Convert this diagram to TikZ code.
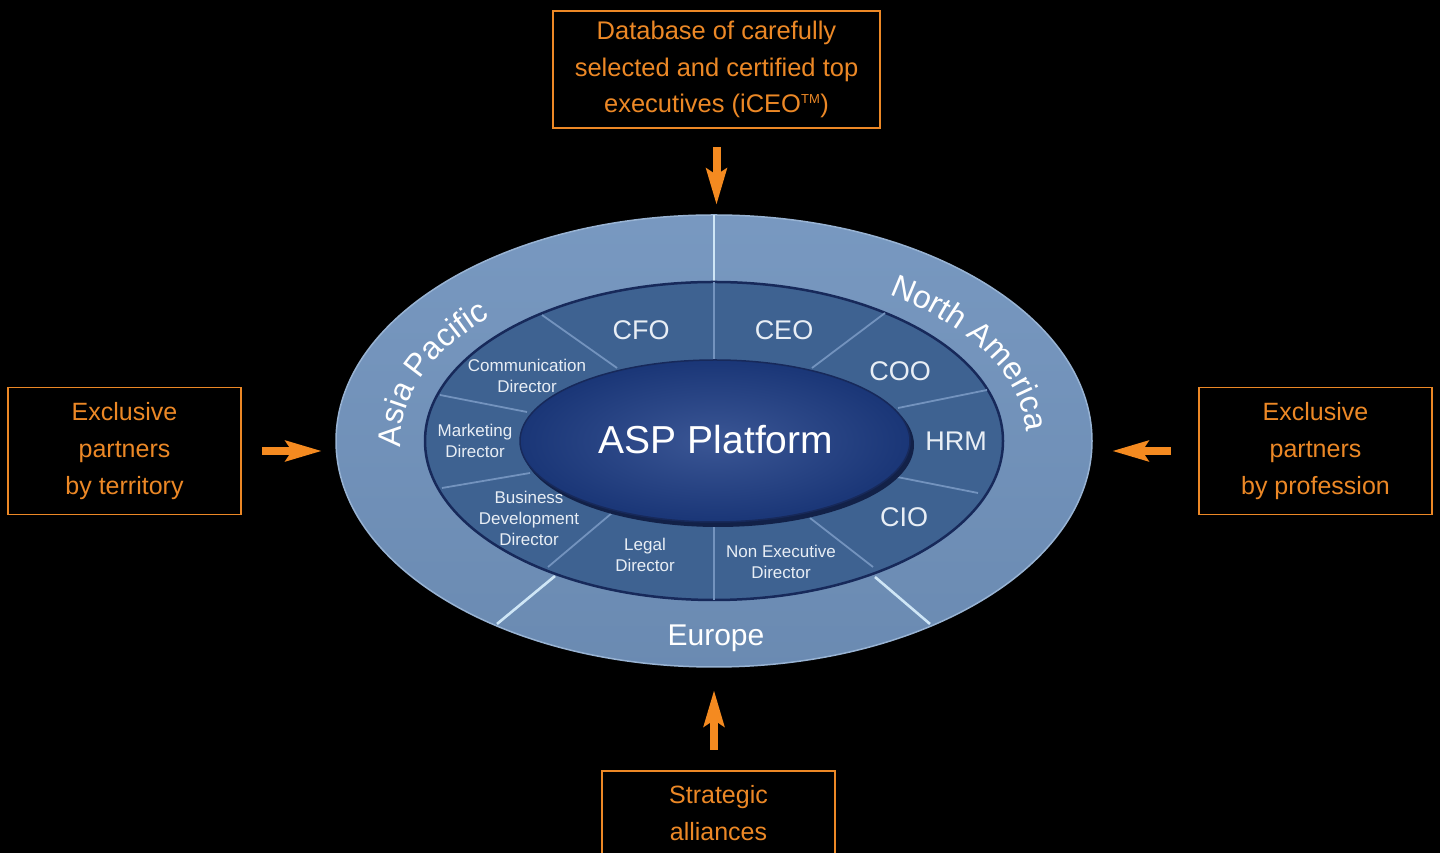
\documentclass[tikz,border=0pt]{standalone}
\usepackage{fontspec}
\setmainfont{Liberation Sans}
\usetikzlibrary{shapes.geometric,arrows.meta,decorations.text}
\definecolor{orng}{HTML}{EC8826}
\definecolor{aorng}{HTML}{F48A20}
\definecolor{outerblue}{HTML}{7193BD}
\definecolor{rimblue}{HTML}{98B3D3}
\definecolor{midblue}{HTML}{3E6291}
\definecolor{navy}{HTML}{17295A}
\definecolor{coreblue}{HTML}{203F86}
\definecolor{coreout}{HTML}{1A3677}
\definecolor{sepA}{HTML}{CFE6F6}
\definecolor{sepB}{HTML}{7393BE}
\definecolor{lbl}{HTML}{E8EEF5}
\tikzset{
  obox/.style={draw=orng, line width=1.4, text=orng, align=center, inner sep=0, outer sep=0,
    font=\fontsize{25}{37}\selectfont, minimum width=233, minimum height=127},
  arr/.style={draw=aorng, line width=8pt, -{Stealth[length=36pt, width=20pt, inset=6pt]}},
  ring/.style={ellipse, inner sep=0, outer sep=0},
  outsep/.style={draw=sepA, line width=2.6},
  insep/.style={draw=sepB, line width=1.8},
  biglbl/.style={text=lbl, font=\fontsize{27}{27}\selectfont, inner sep=0},
  smalllbl/.style={text=lbl, font=\fontsize{17}{21}\selectfont, align=center, inner sep=0},
}
\begin{document}
\begin{tikzpicture}[x=1pt,y=1pt]
\fill[black] (0,0) rectangle (1440,853);
\useasboundingbox (0,0) rectangle (1440,853);

% outer band
\node[ring, minimum width=756, minimum height=452, top color=outerblue!95!white, bottom color=outerblue!94!black, draw=rimblue, line width=1.5] (outer) at (714,412) {};
\draw[outsep] (714,638) -- (714,571);
\draw[outsep] (497,229) -- (555,277);
\draw[outsep] (930,229) -- (875,276);

% middle band
\node[ring, minimum width=578, minimum height=318, fill=midblue, draw=navy, line width=2.5] (mid) at (714,412) {};
\draw[insep] (714,571) -- (714,493);
\draw[insep] (714,331) -- (714,253);
\draw[insep] (542,538) -- (617,485);
\draw[insep] (440,458) -- (527,441);
\draw[insep] (442,365) -- (530,380);
\draw[insep] (612,340) -- (548,286);
\draw[insep] (810,335) -- (873,286);
\draw[insep] (897,376) -- (978,360);
\draw[insep] (898,445) -- (987,463);
\draw[insep] (812,485) -- (885,540);

% core
\fill[navy!80!black] (718,408) ellipse [x radius=196, y radius=82];
\node[ring, minimum width=390, minimum height=162, inner color=coreblue!88!white, outer color=coreout, draw=navy, line width=1.5] (core) at (715,412) {};
\node[text=white, font=\fontsize{39}{39}\selectfont, inner sep=0] (asp) at (716,413) {ASP Platform};

% ring labels
\node[biglbl] (cfo) at (641,523) {CFO};
\node[biglbl] (ceo) at (784,523) {CEO};
\node[biglbl] (coo) at (900,482) {COO};
\node[biglbl] (hrm) at (956,412) {HRM};
\node[biglbl] (cio) at (904,336) {CIO};
\node[smalllbl] (ned) at (781,291) {Non Executive\\Director};
\node[smalllbl] (leg) at (645,298) {Legal\\Director};
\node[smalllbl] (bdd) at (529,335) {Business\\Development\\Director};
\node[smalllbl] (mkt) at (475,412) {Marketing\\Director};
\node[smalllbl] (com) at (527,477) {Communication\\Director};

% regions
\node[text=white, font=\fontsize{30}{30}\selectfont, inner sep=0] (eu) at (716,215) {Europe};
\path[decorate, decoration={text along path, text={|\fontsize{32}{32}\selectfont\color{white}|Asia Pacific}}]
  (714,412) ++(182:313 and 177) arc[start angle=182, end angle=115, x radius=313, y radius=177];
\path[decorate, decoration={text along path, text={|\fontsize{32}{32}\selectfont\color{white}|North America}}]
  (714,412) ++(56:313 and 177) arc[start angle=56, end angle=-15, x radius=313, y radius=177];

% boxes
\node[obox, minimum width=327, minimum height=117, font=\fontsize{25.5}{36.5}\selectfont] (db) at (716.5,783.5)
  {Database of carefully\\selected and certified top\\executives (iCEO\textsuperscript{\fontsize{13}{13}\selectfont TM})};
\node[obox] (lb) at (124.5,402) {Exclusive\\partners\\by territory};
\node[obox] (rb) at (1315.5,402) {Exclusive\\partners\\by profession};
\node[obox, minimum height=85] (sa) at (718.5,39.5) {Strategic\\alliances};

% arrows
\draw[arr, shorten <=19pt, shorten >=10pt] (db.south) -- (db.south |- outer.north);
\draw[arr, shorten <=21pt, shorten >=14pt] (lb.east) -- (lb.east -| outer.west);
\draw[arr, shorten <=28pt, shorten >=20pt] (rb.west) -- (rb.west -| outer.east);
\draw[arr, shorten <=21pt, shorten >=23pt] ([xshift=-4.5pt]sa.north) -- ([xshift=-4.5pt]sa.north |- outer.south);
\end{tikzpicture}
\end{document}
